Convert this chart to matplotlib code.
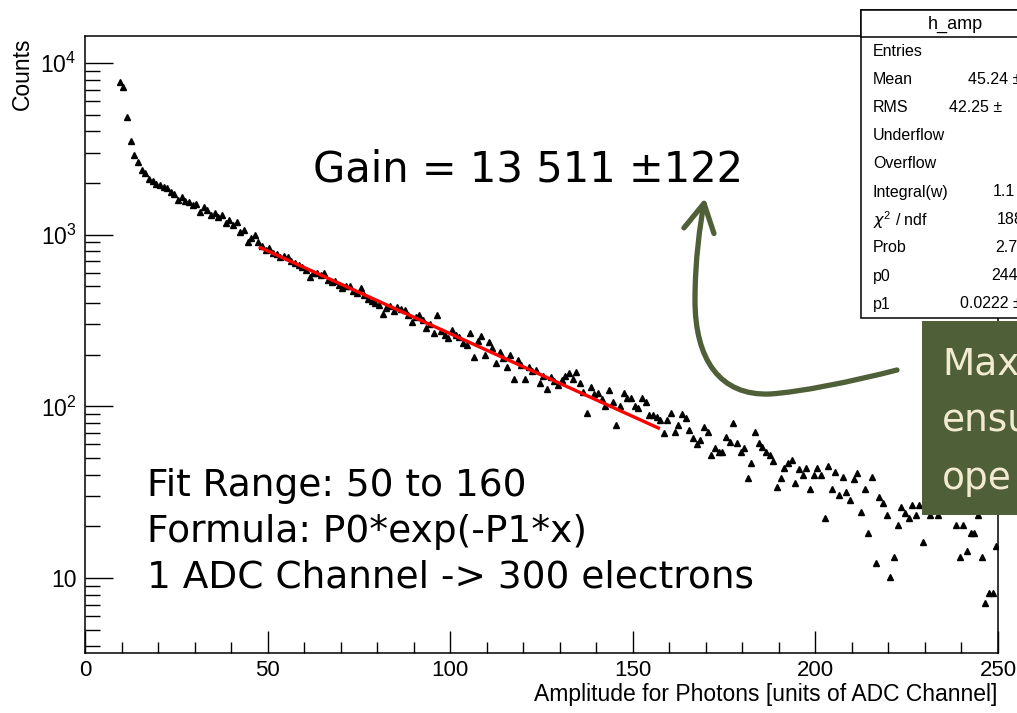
import numpy as np
import matplotlib.pyplot as plt
from matplotlib.patches import Rectangle, FancyArrowPatch
from matplotlib.path import Path
from matplotlib.ticker import FixedLocator, FuncFormatter, LogLocator, MultipleLocator

plt.rcParams['font.family'] = ['Liberation Sans', 'DejaVu Sans']
plt.rcParams['mathtext.fontset'] = 'custom'
plt.rcParams['mathtext.rm'] = 'Liberation Sans'
SLIDE_FONT = ['DejaVu Sans']
OLIVE = '#4f5f38'
CREAM = '#f3ead2'

# histogram bin centres (ADC channel) and counts
channels = np.arange(9.5, 250.0, 1.0)
counts = [
    7700, 7200, 4850, 3520, 2910, 2650, 2380, 2290, 2110, 2050,
    1980, 1950, 1900, 1870, 1780, 1720, 1600, 1650, 1560, 1540,
    1480, 1500, 1360, 1450, 1400, 1310, 1340, 1260, 1300, 1170,
    1220, 1140, 1190, 1030, 1070, 910, 960, 990, 900, 860,
    815, 840, 782, 770, 741, 750, 741, 700, 684, 670,
    650, 620, 567, 598, 598, 582, 600, 545, 531, 540,
    510, 490, 505, 500, 470, 457, 490, 445, 423, 411,
    400, 390, 345, 374, 385, 360, 379, 369, 364, 340,
    310, 332, 340, 319, 286, 300, 268, 341, 275, 261,
    250, 279, 261, 255, 234, 228, 268, 194, 240, 257,
    200, 237, 219, 179, 207, 190, 170, 200, 145, 185,
    174, 145, 170, 160, 163, 137, 150, 126, 148, 140,
    133, 142, 150, 157, 145, 158, 137, 121, 92, 130,
    118, 120, 110, 100, 125, 106, 78, 100, 120, 112,
    112, 100, 98, 112, 106, 89, 89, 87, 83, 70,
    83, 92, 71, 78, 90, 85, 73, 65, 60, 64,
    76, 71, 52, 57, 54, 54, 66, 62, 80, 61,
    54, 57, 38, 47, 71, 61, 58, 54, 52, 48,
    34, 38, 44, 47, 49, 36, 43, 40, 44, 33,
    40, 44, 40, 22.4, 45, 33, 41.5, 30.5, 38.8, 31.8,
    28.5, 37.8, 40.9, 24.3, 33, 18.3, 38.8, 12.2, 29.6, 27.3,
    23.3, 10.1, 13.3, 20.4, 25.9, 24, 22.4, 26.7, 23.3, 26.7,
    16.2, 28, 23.3, 26, 23.3, 27, 25, 30, 26, 20.4,
    13.3, 20.4, 14.4, 18.3, 18.3, 23.3, 13.3, 7.2, 8.2, 8.2,
    15.4,
]

# fit P0*exp(-P1*x) over the fit range
fit_range = [48, 157]
p0, p1 = 2440.0, 0.0222

stat_names = ['Entries', 'Mean', 'RMS', 'Underflow', 'Overflow', 'Integral(w)',
              r'$\chi^{2}$ / ndf', 'Prob', 'p0', 'p1']
stat_values = ['', '45.24 \u00b1', '42.25 \u00b1', '', '', '1.1', '188', '2.7', '244', '0.0222 \u00b1']
stat_value_x = [0, 968, 949, 0, 0, 993, 997, 995, 991, 960]

W, H = 1017, 713
fig = plt.figure(figsize=(W / 100, H / 100), dpi=100)
ax = fig.add_axes([85 / W, 60 / H, 913 / W, 617 / H])

ax.plot(channels, counts, ls='none', marker='^', ms=4.6, color='black', zorder=2)
xf = np.linspace(fit_range[0], fit_range[1], 200)
ax.plot(xf, p0 * np.exp(-p1 * xf), color='red', lw=2.4, zorder=3)

ax.set_yscale('log')
ax.set_xlim(0, 250)
ax.set_ylim(3.66, 14350)

ax.xaxis.set_major_locator(MultipleLocator(50))
ax.xaxis.set_minor_locator(MultipleLocator(10))
ax.yaxis.set_major_locator(FixedLocator([10, 100, 1000, 10000]))
ax.yaxis.set_minor_locator(LogLocator(base=10, subs=np.arange(2, 10)))
ax.yaxis.set_minor_formatter(FuncFormatter(lambda v, p: ''))
ax.yaxis.set_major_formatter(FuncFormatter(
    lambda v, p: '10' if v == 10 else r'$\mathregular{10^{%d}}$' % round(np.log10(v))))

ax.tick_params(axis='x', which='major', direction='in', length=16, width=1, labelsize=16, pad=5, top=False)
ax.tick_params(axis='x', which='minor', direction='in', length=8, width=1, top=False)
ax.tick_params(axis='y', which='major', direction='in', length=20, width=1, labelsize=16.5, pad=6, right=False)
ax.tick_params(axis='y', which='minor', direction='in', length=10.5, width=1, right=False)
for s in ax.spines.values():
    s.set_linewidth(1.1)

fig.text(22 / W, 1 - 37 / H, 'Counts', rotation=90, ha='center', va='top', fontsize=16.5)
fig.text(997 / W, 1 - 694 / H, 'Amplitude for Photons [units of ADC Channel]',
         ha='right', va='center', fontsize=16.5)

# statistics box
fig.add_artist(Rectangle((861 / W, 1 - 318 / H), 0.2, 308 / H, transform=fig.transFigure,
                         facecolor='white', edgecolor='black', lw=1.1, zorder=5))
fig.add_artist(Rectangle((861 / W, 1 - 37 / H), 0.2, 27 / H, transform=fig.transFigure,
                         facecolor='white', edgecolor='black', lw=1.1, zorder=5))
fig.text(955 / W, 1 - 24 / H, 'h_amp', ha='center', va='center', fontsize=13, zorder=6)
for i, (name, val, vx) in enumerate(zip(stat_names, stat_values, stat_value_x)):
    y = 1 - (52 + i * 28) / H
    fig.text(873 / W, y, name, ha='left', va='center', fontsize=11.5, zorder=6)
    if val:
        fig.text(vx / W, y, val, ha='left', va='center', fontsize=11.5, zorder=6)

# slide annotations
fig.text(313 / W, 1 - 182 / H, 'Gain = 13 511 \u00b1122', ha='left', va='baseline',
         fontsize=30, family=SLIDE_FONT)
for i, line in enumerate(['Fit Range: 50 to 160', 'Formula: P0*exp(-P1*x)',
                          '1 ADC Channel -> 300 electrons']):
    fig.text(147 / W, 1 - (496 + 46 * i) / H, line, ha='left', va='baseline',
             fontsize=27, family=SLIDE_FONT)

fig.add_artist(Rectangle((922 / W, 1 - 515 / H), 0.2, 194 / H, transform=fig.transFigure,
                         facecolor=OLIVE, edgecolor='none', zorder=7))
for i, line in enumerate(['Max', 'ensu', 'ope']):
    fig.text(942 / W, 1 - (375 + 57 * i) / H, line, ha='left', va='baseline',
             fontsize=27, color=CREAM, family=SLIDE_FONT, zorder=8)

pts = [(897, 370), (850, 382), (800, 392), (770, 394),
       (720, 396), (695, 360), (695, 300),
       (695, 260), (700, 225), (705, 198)]
codes = [Path.MOVETO] + [Path.CURVE4] * 9
arrow_path = Path([(x / W, 1 - y / H) for x, y in pts], codes)
fig.add_artist(FancyArrowPatch(path=arrow_path, transform=fig.transFigure,
                               arrowstyle='->,head_length=1.0,head_width=0.55', mutation_scale=20,
                               color=OLIVE, lw=3.8, zorder=6))

fig.savefig('out.png', dpi=100)
